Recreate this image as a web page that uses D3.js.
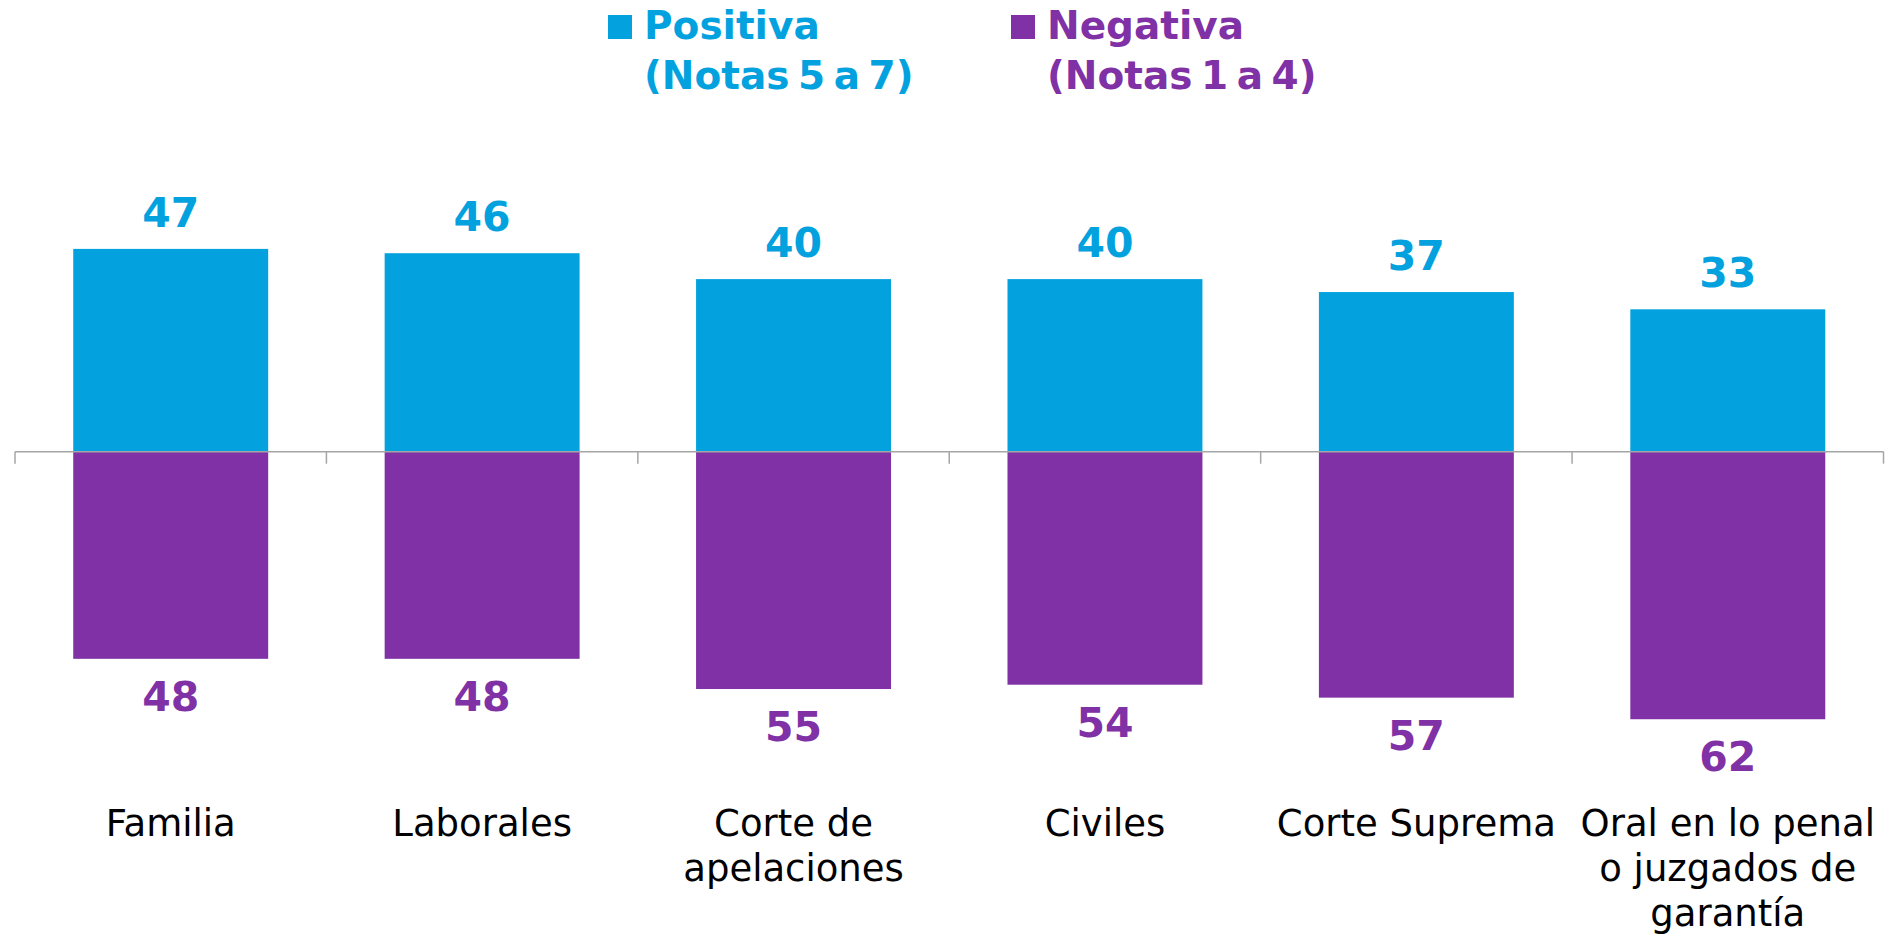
<!DOCTYPE html>
<html>
<head>
<meta charset="utf-8">
<script src="https://cdn.jsdelivr.net/npm/d3@7"></script>
<style>
  html, body { margin: 0; padding: 0; background: #ffffff; }
  svg { display: block; }
</style>
</head>
<body>
<svg id="chart" width="1890" height="934"></svg>
<script>
const categories = [
  ["Familia"],
  ["Laborales"],
  ["Corte de", "apelaciones"],
  ["Civiles"],
  ["Corte Suprema"],
  ["Oral en lo penal", "o juzgados de", "garantía"]
];
const positiva = [47, 46, 40, 40, 37, 33];
const negativa = [48, 48, 55, 54, 57, 62];
const legendLabels = [
  ["Positiva", "(Notas 5 a 7)"],
  ["Negativa", "(Notas 1 a 4)"]
];

const BLUE = "#03a2df";
const PURPLE = "#7f31a5";
const FONT = "'DejaVu Sans', sans-serif";

const svg = d3.select("#chart");
const keys = categories.map((c, i) => i);

const pad = 0.374;
const x = d3.scaleBand().domain(keys).range([15, 1883.5])
  .paddingInner(pad).paddingOuter(pad / 2);
const y = d3.scaleLinear().domain([-70, 60]).range([451.7 + 70 * 4.315, 451.7 - 60 * 4.315]);

// positive bars
svg.append("g").selectAll("rect").data(positiva).join("rect")
  .attr("x", (d, i) => x(i))
  .attr("width", x.bandwidth())
  .attr("y", d => y(d))
  .attr("height", d => y(0) - y(d))
  .attr("fill", BLUE);

// negative bars
svg.append("g").selectAll("rect").data(negativa).join("rect")
  .attr("x", (d, i) => x(i))
  .attr("width", x.bandwidth())
  .attr("y", y(0))
  .attr("height", d => y(-d) - y(0))
  .attr("fill", PURPLE);

// axis line with ticks at band boundaries
const step = x.step();
const axisG = svg.append("g").attr("stroke", "#a6a6a6").attr("stroke-width", 1.5);
const x0 = x(0) - step * pad / 2;
axisG.append("line").attr("x1", x0).attr("x2", x0 + step * categories.length)
  .attr("y1", y(0)).attr("y2", y(0));
d3.range(categories.length + 1).forEach(k => {
  axisG.append("line")
    .attr("x1", x0 + k * step).attr("x2", x0 + k * step)
    .attr("y1", y(0)).attr("y2", y(0) + 12);
});

// value labels
svg.append("g").selectAll("text").data(positiva).join("text")
  .attr("x", (d, i) => x(i) + x.bandwidth() / 2)
  .attr("y", d => y(d) - 22)
  .attr("text-anchor", "middle")
  .attr("font-family", FONT).attr("font-weight", "bold").attr("font-size", 41)
  .attr("fill", BLUE)
  .text(d => d);

svg.append("g").selectAll("text").data(negativa).join("text")
  .attr("x", (d, i) => x(i) + x.bandwidth() / 2)
  .attr("y", d => y(-d) + 52)
  .attr("text-anchor", "middle")
  .attr("font-family", FONT).attr("font-weight", "bold").attr("font-size", 41)
  .attr("fill", PURPLE)
  .text(d => d);

// category labels
const catG = svg.append("g");
categories.forEach((lines, i) => {
  const t = catG.append("text")
    .attr("x", x(i) + x.bandwidth() / 2)
    .attr("y", 836)
    .attr("text-anchor", "middle")
    .attr("font-family", FONT).attr("font-size", 37)
    .attr("fill", "#000000");
  lines.forEach((ln, j) => {
    t.append("tspan").attr("x", x(i) + x.bandwidth() / 2)
      .attr("dy", j === 0 ? 0 : 45).text(ln);
  });
});

// legend
const legendX = [608, 1011];
const legendColors = [BLUE, PURPLE];
legendLabels.forEach((lines, i) => {
  const g = svg.append("g");
  g.append("rect").attr("x", legendX[i]).attr("y", 15)
    .attr("width", 24).attr("height", 24).attr("fill", legendColors[i]);
  const t = g.append("text")
    .attr("x", legendX[i] + 36).attr("y", 39)
    .attr("font-family", FONT).attr("font-weight", "bold").attr("font-size", 39)
    .attr("fill", legendColors[i]);
  lines.forEach((ln, j) => {
    t.append("tspan").attr("x", legendX[i] + 36).attr("dy", j === 0 ? 0 : 50)
      .attr("word-spacing", j === 0 ? 0 : -5).text(ln);
  });
});
</script>
</body>
</html>
